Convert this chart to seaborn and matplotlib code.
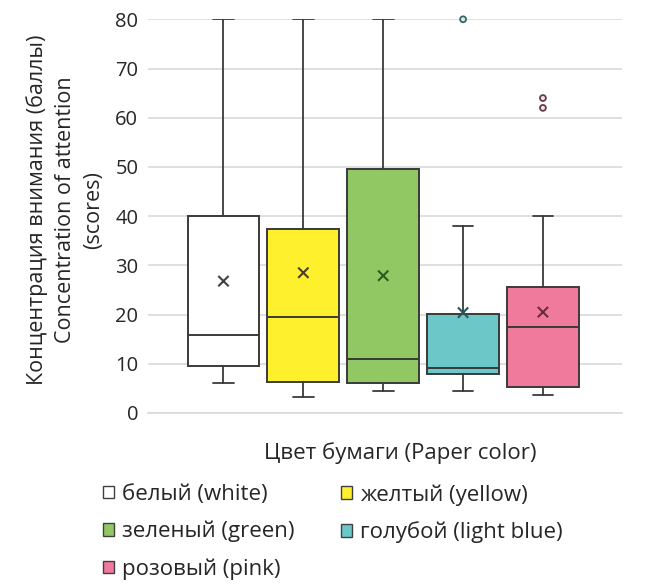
import matplotlib
matplotlib.use("Agg")
import matplotlib.pyplot as plt
import matplotlib.patches as mpatches
import seaborn as sns
import pandas as pd

# ---- data ----
categories = ["белый (white)", "желтый (yellow)", "зеленый (green)",
              "голубой (light blue)", "розовый (pink)"]
colors = ["#FFFFFF", "#FFF02E", "#92C864", "#6CC8C8", "#F07A9C"]
mean_colors = ["#404040", "#4A3E1E", "#2C5A22", "#2A5656", "#6A2A40"]
whisker_low = [6.1, 3.3, 4.4, 4.4, 3.6]
q1 = [9.5, 6.3, 6.0, 7.9, 5.2]
median = [15.9, 19.5, 11.0, 9.2, 17.4]
q3 = [40.0, 37.4, 49.5, 20.2, 25.6]
whisker_high = [80.0, 80.0, 80.0, 38.0, 40.1]
means = [26.8, 28.5, 27.9, 20.4, 20.5]
outlier_group = [3, 4, 4]
outlier_value = [80.0, 64.0, 62.0]
outlier_edge = ["#2E6B66", "#6B3A4E", "#6B3A4E"]
yticks = [0, 10, 20, 30, 40, 50, 60, 70, 80]

sns.set_theme(style="white")
plt.rcParams["font.family"] = ["Open Sans", "DejaVu Sans"]
TXT = "#262626"

fig = plt.figure(figsize=(6.52, 5.84), dpi=100)
ax = fig.add_axes([148/652, 1-413/584, (622-148)/652, (413-19.3)/584])

edge = "#3A3A3A"
stats = []
for i, c in enumerate(categories):
    stats.append(dict(label=c, whislo=whisker_low[i], q1=q1[i], med=median[i],
                      q3=q3[i], whishi=whisker_high[i], fliers=[]))
bp = ax.bxp(stats, positions=list(range(len(categories))), widths=0.9,
            patch_artist=True, showfliers=False, capwidths=0.26,
            boxprops=dict(edgecolor=edge, linewidth=1.4),
            medianprops=dict(color=edge, linewidth=1.4),
            whiskerprops=dict(color=edge, linewidth=1.3),
            capprops=dict(color=edge, linewidth=1.3), zorder=3)
for patch, col in zip(bp["boxes"], colors):
    patch.set_facecolor(col)

df_mean = pd.DataFrame({"x": range(len(categories)), "y": means, "c": categories})
sns.scatterplot(data=df_mean, x="x", y="y", hue="c", palette=mean_colors,
                marker="x", s=55, linewidth=1.5, ax=ax, zorder=5, legend=False)

df_out = pd.DataFrame({"x": outlier_group, "y": outlier_value})
sns.scatterplot(data=df_out, x="x", y="y", marker="o", s=18,
                facecolor="#E8E8E8", edgecolor=outlier_edge, linewidth=1.3,
                ax=ax, zorder=5, legend=False)
for coll in ax.collections:
    coll.set_clip_on(False)

ax.set_xlim(-0.945, 4.99)
ax.set_ylim(0, 80)
ax.set_yticks(yticks)
ax.set_yticklabels([str(t) for t in yticks], fontsize=14.5, color=TXT)
ax.set_xticks([])
ax.tick_params(axis="y", length=0, pad=7)
ax.yaxis.grid(True, color="#D9D9D9", linewidth=1.2, zorder=0)
ax.set_axisbelow(True)
for s in ["top", "right", "left"]:
    ax.spines[s].set_visible(False)
ax.spines["bottom"].set_color("#D9D9D9")
ax.spines["bottom"].set_linewidth(1.2)

ax.set_xlabel("Цвет бумаги (Paper color)", fontsize=16, color=TXT)
ax.xaxis.set_label_coords((400-148)/474, (413-442)/393.4)
ax.set_ylabel("Концентрация внимания (баллы)\nConcentration of attention\n(scores)",
              fontsize=15.5, color=TXT, linespacing=1.45)
ax.yaxis.set_label_coords((104-148)/474, (413-210)/393.4)

handles = [mpatches.Patch(facecolor=c, edgecolor="#404040", linewidth=1.0, label=l)
           for c, l in zip(colors, categories)]
leg_kw = dict(loc="upper left", frameon=False, fontsize=16, handlelength=0.5,
              handleheight=0.5, handletextpad=0.35, labelspacing=0.72,
              borderaxespad=0, borderpad=0)
col1 = [0, 2, 4]
col2 = [1, 3]
legA = fig.legend([handles[i] for i in col1], [categories[i] for i in col1],
                  bbox_to_anchor=(103/652, 1-484/584), **leg_kw)
legB = fig.legend([handles[i] for i in col2], [categories[i] for i in col2],
                  bbox_to_anchor=(341/652, 1-484/584), **leg_kw)
for lg in (legA, legB):
    for t in lg.get_texts():
        t.set_color(TXT)

fig.savefig("out.png", dpi=100, facecolor="white")
